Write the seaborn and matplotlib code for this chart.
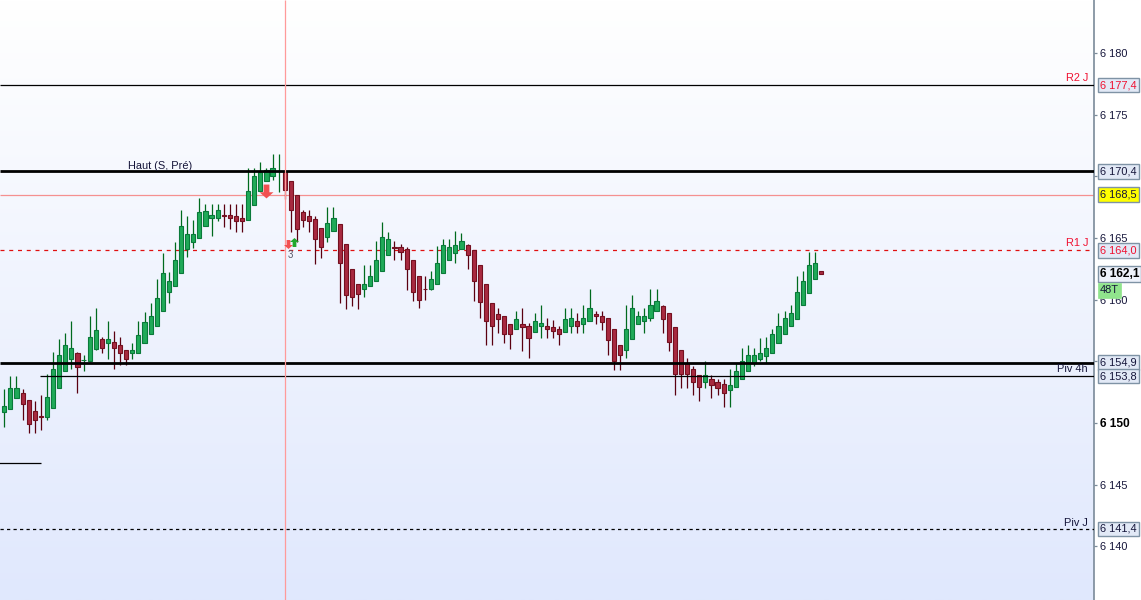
import numpy as np
import pandas as pd
import seaborn as sns
import matplotlib.pyplot as plt
from matplotlib.colors import LinearSegmentedColormap
from matplotlib.path import Path

# OHLC, one value per candle
opens = [6150.9, 6151.1, 6152.0, 6152.4, 6151.9, 6150.95, 6150.6, 6150.5, 6151.25, 6152.8,
         6154.2, 6155.2, 6155.65, 6155.1, 6155.05, 6156.0, 6156.8, 6156.45, 6156.6, 6156.35,
         6155.95, 6155.65, 6155.7, 6156.45, 6157.25, 6157.9, 6159.05, 6160.6, 6161.1, 6162.2,
         6164.1, 6164.7, 6165.0, 6166.0, 6166.6, 6166.65, 6166.9, 6166.85, 6166.75, 6166.6,
         6166.45, 6167.65, 6168.85, 6169.6, 6170.0, 6170.4, 6170.35, 6169.65, 6168.45, 6167.1,
         6166.75, 6166.5, 6165.8, 6165.05, 6165.6, 6166.1, 6164.5, 6162.45, 6161.3, 6160.9,
         6161.1, 6161.5, 6162.35, 6163.65, 6164.25, 6164.25, 6164.1, 6163.25, 6161.95, 6160.9,
         6160.9, 6161.25, 6162.15, 6163.25, 6163.75, 6164.1, 6164.4, 6164.0, 6162.8, 6161.25,
         6159.7, 6158.8, 6158.65, 6158.0, 6157.6, 6158.0, 6157.85, 6157.35, 6157.85, 6157.9,
         6157.75, 6157.6, 6157.35, 6157.9, 6158.25, 6158.0, 6158.25, 6158.8, 6158.7, 6158.5,
         6157.6, 6156.35, 6155.9, 6156.8, 6158.0, 6158.3, 6158.5, 6159.05, 6159.45, 6158.9,
         6157.75, 6155.9, 6154.85, 6154.4, 6153.85, 6153.35, 6153.6, 6153.35, 6153.15, 6152.7,
         6152.9, 6153.55, 6154.25, 6154.9, 6155.15, 6155.4, 6155.7, 6156.45, 6157.2, 6157.85,
         6158.4, 6159.55, 6160.5, 6161.65, 6162.3]
closes = [6151.35, 6152.8, 6152.8, 6151.5, 6149.95, 6150.25, 6150.45, 6152.1, 6154.35, 6155.5,
          6156.35, 6156.05, 6154.5, 6155.1, 6156.95, 6157.5, 6156.1, 6156.8, 6156.1, 6155.65,
          6155.2, 6155.9, 6157.1, 6158.15, 6158.65, 6160.1, 6162.15, 6161.5, 6163.25, 6165.95,
          6165.35, 6165.3, 6167.1, 6167.15, 6166.85, 6167.25, 6166.75, 6166.65, 6166.35, 6166.35,
          6168.85, 6170.0, 6170.35, 6170.55, 6170.7, 6170.4, 6168.9, 6167.25, 6165.7, 6166.45,
          6166.35, 6164.95, 6164.3, 6166.2, 6166.6, 6162.95, 6160.35, 6160.25, 6160.45, 6161.25,
          6161.9, 6163.25, 6165.05, 6164.9, 6164.15, 6163.85, 6162.45, 6160.65, 6159.95, 6160.85,
          6161.65, 6162.95, 6164.4, 6164.25, 6164.4, 6164.75, 6163.6, 6161.55, 6159.8, 6158.25,
          6157.9, 6158.4, 6157.25, 6157.2, 6158.4, 6157.75, 6156.85, 6158.25, 6158.1, 6157.6,
          6157.45, 6157.2, 6158.4, 6158.55, 6157.85, 6158.5, 6159.35, 6158.65, 6158.15, 6156.7,
          6155.05, 6155.5, 6157.6, 6159.3, 6158.65, 6158.65, 6159.6, 6159.85, 6158.4, 6156.6,
          6153.95, 6153.95, 6153.95, 6153.3, 6152.95, 6153.85, 6153.05, 6152.8, 6152.4, 6153.05,
          6154.25, 6155.0, 6155.5, 6155.5, 6155.65, 6156.05, 6157.2, 6157.85, 6158.5, 6158.95,
          6160.6, 6161.55, 6162.8, 6162.95, 6162.05]
highs = [6152.75, 6153.8, 6153.8, 6152.75, 6151.9, 6151.8, 6152.25, 6153.95, 6155.75, 6156.8,
         6157.3, 6158.25, 6155.75, 6155.5, 6158.7, 6159.3, 6157.0, 6158.25, 6157.45, 6157.0,
         6155.95, 6156.45, 6158.25, 6159.0, 6159.7, 6161.7, 6163.8, 6162.25, 6164.7, 6167.25,
         6166.8, 6166.45, 6168.25, 6167.75, 6167.75, 6167.75, 6167.75, 6167.75, 6167.75, 6167.75,
         6170.7, 6170.7, 6171.2, 6170.7, 6171.8, 6171.8, 6170.4, 6169.65, 6168.45, 6167.25,
         6167.25, 6166.8, 6165.8, 6167.5, 6167.5, 6166.1, 6164.5, 6162.45, 6161.3, 6162.8,
         6162.8, 6164.75, 6166.3, 6165.45, 6164.75, 6164.5, 6164.25, 6163.25, 6161.95, 6161.9,
         6162.35, 6164.35, 6164.9, 6164.9, 6165.55, 6165.4, 6164.55, 6164.0, 6162.8, 6161.25,
         6159.7, 6159.35, 6158.65, 6158.0, 6159.05, 6159.35, 6158.1, 6158.9, 6159.55, 6158.55,
         6158.35, 6157.85, 6159.35, 6159.35, 6158.9, 6159.55, 6160.85, 6159.05, 6159.05, 6158.5,
         6157.6, 6156.35, 6159.55, 6160.35, 6159.05, 6159.35, 6160.85, 6160.85, 6159.55, 6158.9,
         6157.75, 6155.9, 6155.3, 6154.6, 6153.85, 6155.05, 6153.85, 6153.55, 6153.55, 6154.35,
         6154.85, 6156.05, 6156.35, 6156.05, 6156.85, 6157.0, 6157.6, 6158.9, 6159.05, 6159.55,
         6161.9, 6162.35, 6163.85, 6163.85, 6162.3]
lows = [6149.7, 6151.1, 6152.0, 6150.25, 6149.2, 6149.2, 6149.45, 6150.25, 6151.25, 6152.8,
        6154.2, 6154.4, 6152.45, 6154.25, 6154.95, 6155.9, 6155.7, 6155.2, 6154.4, 6154.7,
        6154.7, 6155.2, 6155.7, 6156.45, 6157.25, 6157.9, 6159.05, 6159.75, 6161.1, 6162.2,
        6163.45, 6164.2, 6165.0, 6166.0, 6165.2, 6166.4, 6165.9, 6165.75, 6165.45, 6165.45,
        6166.45, 6167.65, 6168.85, 6169.6, 6169.7, 6168.7, 6168.15, 6165.45, 6164.7, 6165.9,
        6165.45, 6162.9, 6163.4, 6164.7, 6165.6, 6159.75, 6159.25, 6159.45, 6159.25, 6160.25,
        6161.1, 6161.5, 6162.35, 6163.65, 6163.2, 6163.2, 6160.8, 6159.85, 6159.35, 6159.95,
        6160.8, 6161.25, 6162.15, 6163.25, 6163.0, 6164.1, 6162.5, 6159.85, 6158.55, 6156.35,
        6156.35, 6157.3, 6156.5, 6156.0, 6157.6, 6155.85, 6155.3, 6157.35, 6156.85, 6156.85,
        6156.85, 6156.35, 6157.35, 6157.3, 6157.3, 6157.3, 6158.25, 6158.05, 6157.55, 6155.55,
        6154.3, 6154.3, 6155.3, 6156.8, 6158.0, 6157.3, 6158.3, 6159.05, 6157.3, 6155.85,
        6152.3, 6152.85, 6152.85, 6152.3, 6151.8, 6152.85, 6152.05, 6152.3, 6151.3, 6151.3,
        6152.9, 6153.55, 6154.25, 6154.6, 6155.05, 6154.9, 6155.7, 6156.45, 6157.2, 6157.85,
        6158.4, 6159.55, 6160.5, 6161.65, 6162.05]

tick_values = [6140, 6145, 6150, 6155, 6160, 6165, 6170, 6175, 6180]
tick_labels = ['6 140', '6 145', '6 150', '', '6 160', '6 165', '6 170', '6 175', '6 180']

level_prices = [6177.4, 6170.4, 6168.5, 6164.0, 6154.9, 6153.8, 6141.4]
level_labels = ['6 177,4', '6 170,4', '6 168,5', '6 164,0', '6 154,9', '6 153,8', '6 141,4']
last_price = 6162.1

GREEN_FILL, GREEN_EDGE, GREEN_WICK = '#20aa58', '#0a7a3a', '#006a1e'
RED_FILL, RED_EDGE, RED_WICK = '#a82a40', '#741020', '#5a0010'

W, H = 1141, 600
AXIS_PX = 1093.5
X_PER_PX = 1 / 6.096
YMIN, YMAX = 6135.64, 6184.3

sns.set_style('white')
plt.rcParams['font.family'] = ['Liberation Sans', 'DejaVu Sans']
plt.rcParams['lines.solid_capstyle'] = 'butt'

df = pd.DataFrame({'idx': np.arange(len(opens)), 'open': opens, 'high': highs, 'low': lows, 'close': closes})
df['dir'] = np.where(df['close'] >= df['open'], 'up', 'down')
df['bottom'] = df[['open', 'close']].min(axis=1)
df['height'] = (df['open'] - df['close']).abs()

fig = plt.figure(figsize=(W / 100, H / 100), dpi=100)
ax = fig.add_axes([0, 0, AXIS_PX / W, 1])

# fond degrade
grad = LinearSegmentedColormap.from_list('bg', ['#ffffff', '#e0e8fd'])
ax.imshow(np.linspace(0, 1, 256)[:, None], extent=[0, 1, 0, 1], transform=ax.transAxes,
          aspect='auto', cmap=grad, zorder=0)

# niveaux sous les bougies
ax.axhline(6168.5, color='#f59090', lw=0.9, zorder=1)
ax.axhline(6164.0, color='#e01010', lw=0.9, dashes=(3.2, 3.8), zorder=1)

# meches
wicks = df.melt(id_vars=['idx', 'dir'], value_vars=['high', 'low'], value_name='price')
sns.lineplot(data=wicks, x='idx', y='price', units='idx', estimator=None, hue='dir', sort=False,
             palette={'up': GREEN_WICK, 'down': RED_WICK}, legend=False, lw=0.9, ax=ax, zorder=2)

# corps
for name, fill, edge in [('up', GREEN_FILL, GREEN_EDGE), ('down', RED_FILL, RED_EDGE)]:
    sub = df[df['dir'] == name]
    sns.barplot(x=sub['idx'].values, y=sub['height'].values, bottom=sub['bottom'].values,
                native_scale=True, width=0.68, color=fill, edgecolor=edge, linewidth=0.8,
                saturation=1, errorbar=None, ax=ax, zorder=3)

# niveaux
ax.axhline(6177.4, color='black', lw=0.9, zorder=4)
ax.axhline(6170.4, color='black', lw=2.0, zorder=4)
ax.axhline(6154.9, color='black', lw=2.0, zorder=4)
ax.axhline(6141.4, color='black', lw=0.9, dashes=(2.6, 2.6), zorder=4)
ax.plot([5.85, 180], [6153.8, 6153.8], color='black', lw=0.9, zorder=4)
ax.plot([-1, 6.0], [6146.75, 6146.75], color='black', lw=0.9, zorder=4)
ax.axvline(46, color='#ff9a9a', lw=0.9, zorder=4)

# fleches
arrow_down = Path([(-1.5, 3.6), (1.5, 3.6), (1.5, -0.4), (3.6, -0.4), (0, -3.6), (-3.6, -0.4), (-1.5, -0.4), (-1.5, 3.6)], closed=True)
arrow_up = Path([(-1.5, -3.6), (1.5, -3.6), (1.5, 0.4), (3.6, 0.4), (0, 3.6), (-3.6, 0.4), (-1.5, 0.4), (-1.5, -3.6)], closed=True)
sns.scatterplot(x=[42.9], y=[6168.8], marker=arrow_down, s=100, color='#f25050', linewidth=0, ax=ax, zorder=5)
sns.scatterplot(x=[46.5], y=[6164.55], marker=arrow_down, s=42, color='#f25050', linewidth=0, ax=ax, zorder=5)
sns.scatterplot(x=[47.5], y=[6164.65], marker=arrow_up, s=42, color='#22a82e', linewidth=0, ax=ax, zorder=5)
ax.text(47.0, 6163.65, '3', fontsize=7, color='#555566', ha='center', va='center', zorder=5)

ax.set_xlim(-4.3 * X_PER_PX, (AXIS_PX - 4.3) * X_PER_PX)
ax.set_ylim(YMIN, YMAX)
ax.set_xlabel('')
ax.set_ylabel('')
ax.set_xticks([])

# echelle a droite
ax.yaxis.tick_right()
ax.set_yticks(tick_values)
ax.set_yticklabels(tick_labels)
ax.tick_params(axis='y', right=True, length=2.4, width=0.9, color='#7a8a99', pad=2.2,
               labelsize=7.9, labelcolor='#15153a')
for lab, val in zip(ax.get_yticklabels(), tick_values):
    if val == 6150:
        lab.set_fontweight('bold')
        lab.set_fontsize(8.6)
        lab.set_color('black')
for side in ['top', 'left', 'bottom']:
    ax.spines[side].set_visible(False)
ax.spines['right'].set_visible(True)
ax.spines['right'].set_color('#7a8a99')
ax.spines['right'].set_linewidth(1.2)

# etiquettes de niveaux
trans = ax.get_yaxis_transform()
box_x = 1100 / AXIS_PX
for price, label in zip(level_prices, level_labels):
    is_red = price in (6177.4, 6164.0)
    is_yellow = price == 6168.5
    ax.text(box_x, price, label, transform=trans, fontsize=7.9, va='center', ha='left', clip_on=False,
            color='#f01030' if is_red else '#15153a', zorder=6,
            bbox=dict(boxstyle='square,pad=0.22', fc='#ffff00' if is_yellow else '#e2e9f6',
                      ec='#7f93a5', lw=1.0))
ax.text(box_x, last_price, '6 162,1', transform=trans, fontsize=8.6, fontweight='bold', va='center',
        ha='left', clip_on=False, color='black', zorder=7,
        bbox=dict(boxstyle='square,pad=0.15', fc='#eef2fb', ec='#7f93a5', lw=1.0))
ax.text(box_x, 6160.75, '48T', transform=trans, fontsize=7.9, va='center', ha='left', clip_on=False,
        color='#15153a', zorder=7, bbox=dict(boxstyle='square,pad=0.2', fc='#90e48c', ec='#90e48c', lw=0.5))

# libelles au-dessus des lignes
right_x = 1088 / AXIS_PX
ax.text(right_x, 6177.55, 'R2 J', transform=trans, fontsize=7.9, color='#f01030', ha='right', va='bottom', zorder=6)
ax.text(right_x, 6164.15, 'R1 J', transform=trans, fontsize=7.9, color='#f01030', ha='right', va='bottom', zorder=6)
ax.text(right_x, 6153.95, 'Piv 4h', transform=trans, fontsize=7.9, color='#15153a', ha='right', va='bottom', zorder=6)
ax.text(right_x, 6141.45, 'Piv J', transform=trans, fontsize=7.9, color='#15153a', ha='right', va='bottom', zorder=6)
ax.text(128 / AXIS_PX, 6170.45, 'Haut (S, Pré)', transform=trans, fontsize=7.9, color='#15153a', ha='left', va='bottom', zorder=6)

fig.savefig('out.png', dpi=100)
plt.close()
